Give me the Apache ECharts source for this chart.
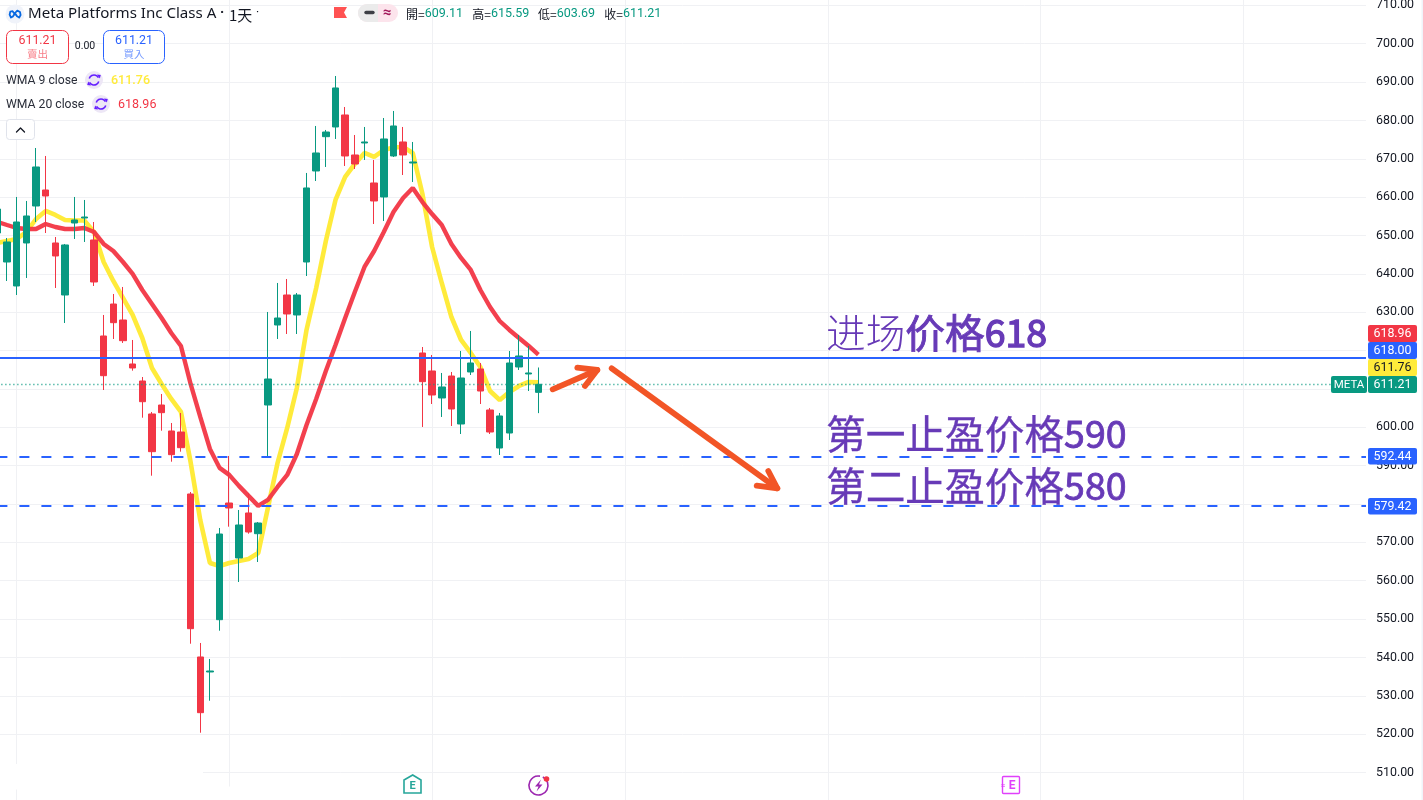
<!DOCTYPE html>
<html><head><meta charset="utf-8">
<style>html,body{margin:0;padding:0;background:#fff}#c{width:1423px;height:800px}</style>
<script src="https://cdn.jsdelivr.net/npm/echarts@6/dist/echarts.min.js"></script>
</head><body><div id="c"></div>
<script>
// Daily candles; index 0 is the sliver cut by the left edge of the chart.
const opens = [650.65,643.09,636.84,648.05,657.69,661.86,648.05,634.49,653.26,654.56,648.83,623.8,632.14,627.97,616.5,612.07,603.47,605.81,599.04,598.77,582.61,540.12,536.21,549.84,580.26,565.93,577.66,572.26,605.81,626.67,634.49,629.28,643.09,666.82,675.76,678.29,681.42,670.99,674.12,663.69,660.04,670.73,674.38,668.9,619.37,614.68,607.64,613.37,600.86,614.42,615.2,604.51,594.6,598.51,615.72,613.9,609.11];
const closes = [656.9,648.31,653.52,655.09,667.86,660.3,644.66,647.53,654.04,654.82,637.88,613.45,627.27,622.58,615.46,606.67,593.64,603.81,592.86,594.68,547.5,525.6,536.47,572.18,578.96,574.53,572.7,575.05,612.59,628.49,629.54,634.49,662.39,671.51,676.98,688.46,670.73,668.64,674.38,659.0,675.16,678.55,670.99,669.16,611.89,608.42,610.51,604.77,612.85,616.76,609.46,598.77,602.95,616.76,618.59,614.16,611.21];
const lows = [645.0,638.14,634.49,638.92,653.52,650.65,636.32,627.19,649.09,648.31,636.84,609.72,623.02,621.98,614.76,602.5,587.38,599.11,591.03,593.64,543.58,520.38,528.72,546.97,574.09,559.67,572.26,564.88,592.0,623.02,624.32,624.32,639.44,664.21,667.86,675.16,668.12,667.34,669.69,653.0,653.78,670.47,665.77,663.95,600.08,606.07,602.69,600.34,598.25,613.63,606.07,598.25,592.78,596.69,614.94,609.46,603.69];
const highs = [660.0,649.35,660.04,659.0,672.81,670.73,649.61,647.79,660.04,659.26,653.52,629.28,634.75,636.58,622.76,613.11,603.99,608.68,601.12,603.73,583.13,543.77,539.6,573.75,592.52,578.44,582.87,575.31,630.06,637.62,638.66,635.01,666.3,678.55,677.51,691.58,683.5,676.2,678.29,669.69,680.63,682.46,678.29,674.38,620.93,618.85,614.16,614.42,619.89,625.11,616.76,605.03,603.73,619.89,624.06,621.2,615.59];
const wma9 = [648.05,648.57,649.09,650.91,654.3,656.39,655.35,654.04,653.91,653.91,650.91,643.09,638.14,633.71,629.28,623.28,615.46,611.29,607.38,603.99,590.95,575.83,564.62,563.84,564.62,565.14,565.66,567.23,578.96,590.69,599.82,610.25,625.37,636.32,648.57,659.26,665.26,668.64,671.51,670.47,672.29,672.94,673.07,671.51,660.82,647.0,637.62,628.75,622.76,619.37,615.72,609.46,607.12,609.2,610.77,611.81,611.76];
const wma20 = [653.52,652.73,651.95,651.69,651.69,653.0,652.21,651.69,651.69,651.95,650.91,647.79,645.96,643.09,639.97,635.79,632.14,628.49,624.58,621.2,611.29,602.69,594.37,589.42,587.59,584.73,582.12,579.52,581.05,584.44,587.57,593.04,600.6,607.38,614.68,621.46,628.49,635.27,641.79,645.96,650.91,656.13,659.78,662.39,658.73,655.6,652.73,647.79,644.14,641.01,635.79,631.36,627.71,625.37,623.28,621.2,618.96];
const monthTicks = [2,24,45,65,86,108,129];
const priceAxisTicks = {min:500,max:720,step:10};
const entryPrice = 618.00, lastPrice = 611.21, wma9Last = 611.76, wma20Last = 618.96, target1 = 592.44, target2 = 579.42;
const title = 'Meta Platforms Inc Class A';
const ohlcLabels = [['開','609.11'],['高','615.59'],['低','603.69'],['收','611.21']];
const notes = [['进场','价格','618'],['','第一止盈价格','590'],['','第二止盈价格','580']];

const RED='#f23645',GREEN='#089981',BLUE='#2962ff',YEL='#ffeb3b',PUR='#673ab7',ORG='#f25526',GRID='#f0f1f4',INK='#131722';
const FF='Roboto,"Noto Sans CJK TC",sans-serif';
const CJK='"Noto Sans CJK SC",sans-serif';
const Z=100;
const txt=(text,x,y,o={})=>({type:'text',z:Z+2,silent:true,style:Object.assign({text,x,y,fontFamily:FF,fontSize:12,fill:INK,verticalAlign:'middle',align:'left'},o)});
const rect=(x,y,w,h,o={},r=0,z=Z)=>({type:'rect',z,silent:true,shape:{x,y,width:w,height:h,r},style:o});
const poly=(pts,o={},z=Z+1)=>({type:'polyline',z,silent:true,shape:{points:pts},style:Object.assign({fill:null,lineCap:'round',lineJoin:'round'},o)});
const pg=(pts,fill,z=Z+1)=>({type:'polygon',z,silent:true,shape:{points:pts},style:{fill}});
const circ=(cx,cy,r,o,z=Z+1)=>({type:'circle',z,silent:true,shape:{cx,cy,r},style:o});
const arc=(cx,cy,r,a,b,o,z=Z+1)=>({type:'arc',z,silent:true,shape:{cx,cy,r,startAngle:a,endAngle:b},style:Object.assign({fill:null},o)});

function tag(v,y0,y1,bg,fg){return [
  rect(1368,y0,49,y1-y0,{fill:bg},2),
  txt(v.toFixed(2),1392.5,(y0+y1)/2+0.5,{fill:fg,align:'center',fontSize:12.4})
];}
function syncIcon(cx,cy){return [
  circ(cx,cy,9,{fill:'#ede7f6'}),
  arc(cx,cy,5,Math.PI*1.1,Math.PI*1.85,{stroke:'#651fff',lineWidth:1.6}),
  arc(cx,cy,5,Math.PI*0.1,Math.PI*0.85,{stroke:'#651fff',lineWidth:1.6}),
  pg([[cx+3,cy-5.5],[cx+6.8,cy-5],[cx+5.8,cy-1.5]],'#651fff'),
  pg([[cx-3,cy+5.5],[cx-6.8,cy+5],[cx-5.8,cy+1.5]],'#651fff')
];}

const g=[];
// erased bits of the grid under the chart
g.push(rect(0,764,203,25.5,{fill:'#fff'},0,Z-1));
g.push(rect(227,786.5,5,14,{fill:'#fff'},0,Z-1));
g.push(rect(1421.5,0,1.5,800,{fill:'#f0f3fa'},0,Z-1));
// header
g.push(circ(15,14,9.5,{fill:'#f0f3fa'}));
g.push(poly([[15,14.5],[12.6,11.2],[10.3,11.6],[9.6,14.6],[11,17.5],[13,16.4],[15,13],[17.3,10.6],[20,12],[20.6,15],[19.2,17.6],[17,16.2],[15,13]],{stroke:'#0668e1',lineWidth:1.8,fill:null}));
g.push(txt(title,28,14,{fontSize:15.1,fontFamily:'"Noto Sans",sans-serif',fill:INK}));
g.push(txt('·',220,13,{fontSize:14,fontWeight:'bold'}));
g.push(txt('1天',229,15,{fontSize:15,fontFamily:'"Noto Sans CJK TC",sans-serif'}));
g.push(txt('·',256,13,{fontSize:12}));
g.push(pg([[334,7],[347,7],[344,12.5],[347,18],[334,18]],'#ff5252'));
g.push(rect(358,4,40,18,{fill:'#fce4ec'},9));
g.push({type:'rect',z:Z,silent:true,shape:{x:358,y:4,width:20,height:18,r:[9,0,0,9]},style:{fill:'#ebebeb'}});
g.push(poly([[366,12.5],[373,12.5]],{stroke:'#3d3f45',lineWidth:3.4}));
g.push(txt('≈',387,13,{align:'center',fontSize:15,fontWeight:'bold',fill:'#a3195b'}));
const ohlcX=[406,472.3,538,604.3];
ohlcLabels.forEach((p,i)=>{
  g.push({type:'text',z:Z+2,silent:true,style:{x:ohlcX[i],y:14,verticalAlign:'middle',text:`{l|${p[0]}=}{v|${p[1]}}`,rich:{
    l:{fontFamily:'"Noto Sans CJK TC",sans-serif',fontSize:12,fill:INK},
    v:{fontFamily:'Roboto',fontSize:12.5,fill:GREEN}}}});
});
// buy / sell
g.push(rect(6.5,30.5,62,33,{fill:'#fff',stroke:RED,lineWidth:1},6));
g.push(txt(lastPrice.toFixed(2),37.5,40.5,{align:'center',fill:RED,fontSize:12.4}));
g.push(txt('賣出',37.5,54,{align:'center',fill:RED,opacity:.65,fontSize:10.5,fontFamily:'"Noto Sans CJK TC",sans-serif'}));
g.push(txt('0.00',85,46.5,{align:'center',fontSize:10.5}));
g.push(rect(103.5,30.5,61,33,{fill:'#fff',stroke:BLUE,lineWidth:1},6));
g.push(txt(lastPrice.toFixed(2),134,40.5,{align:'center',fill:BLUE,fontSize:12.4}));
g.push(txt('買入',134,54,{align:'center',fill:BLUE,opacity:.65,fontSize:10.5,fontFamily:'"Noto Sans CJK TC",sans-serif'}));
// legend
g.push(txt('WMA 9 close',6,81,{fontSize:12.2,fill:'#2a2e39'}));
g.push(...syncIcon(94,80));
g.push(txt(wma9Last.toFixed(2),111,81,{fill:YEL,fontSize:12.5,fontWeight:500}));
g.push(txt('WMA 20 close',6,105,{fontSize:12.2,fill:'#2a2e39'}));
g.push(...syncIcon(101,104));
g.push(txt(wma20Last.toFixed(2),118,105,{fill:RED,fontSize:12.5}));
g.push(rect(6.5,119.5,28,20,{fill:'#fff',stroke:'#e0e3eb',lineWidth:1},3));
g.push(poly([[16.5,132],[20.5,128],[24.5,132]],{stroke:INK,lineWidth:1.3}));
// price tags
g.push(...tag(wma20Last,325,342,RED,'#fff'));
g.push(...tag(entryPrice,342,359,BLUE,'#fff'));
g.push(...tag(wma9Last,359,376,YEL,INK));
g.push(...tag(lastPrice,376,393,GREEN,'#fff'));
g.push(rect(1331,376,36,17,{fill:GREEN},2));
g.push(txt('META',1349,385,{fill:'#fff',align:'center',fontSize:11.5}));
g.push(...tag(target1,448,464.5,BLUE,'#fff'));
g.push(...tag(target2,498,514.6,BLUE,'#fff'));
// arrows
const arrowStyle={stroke:ORG,lineWidth:5.8};
g.push(poly([[552.7,389.3],[597.3,370]],arrowStyle));
g.push(poly([[577.3,367.7],[597.3,370],[585,386]],arrowStyle));
g.push(poly([[611.7,368.3],[777.3,488.3]],arrowStyle));
g.push(poly([[768.3,471],[777.3,488.3],[756.7,485.7]],arrowStyle));
// notes
const noteY=[333,434,486];
const noteBold=[0.9,0.35,0.35];
notes.forEach((n,i)=>{
  g.push({type:'text',z:Z+2,silent:true,style:{x:826,y:noteY[i],verticalAlign:'middle',
    text:(n[0]?`{t|${n[0]}}`:'')+`{c|${n[1]}}{d|${n[2]}}`,
    rich:{
      t:{fontFamily:CJK,fontSize:39.7,fontWeight:300,fill:PUR},
      c:{fontFamily:CJK,fontSize:39.7,fill:PUR,stroke:PUR,lineWidth:noteBold[i]},
      d:{fontFamily:CJK,fontSize:37.5,fill:PUR,stroke:PUR,lineWidth:noteBold[i]+0.5}}}});
});
// bottom event icons
g.push({type:'polygon',z:Z+1,silent:true,shape:{points:[[404,780],[412.7,775],[421,780],[421,793],[404,793]]},style:{fill:'#fff',stroke:'#26a69a',lineWidth:1.6}});
g.push(txt('E',412.7,786,{align:'center',fontSize:11,fontWeight:'bold',fill:'#26a69a'}));
g.push(arc(538.5,785.5,9.5,-Math.PI*0.35,Math.PI*1.55,{stroke:'#9c27b0',lineWidth:1.6}));
g.push(pg([[541,779.5],[535,786.5],[538.5,786.5],[536.5,791.5],[542.5,784.5],[539,784.5]],'#9c27b0'));
g.push(circ(546.5,779,2.8,{fill:RED}));
g.push(rect(1002.5,776.5,17,17,{fill:'#fff',stroke:'#e040fb',lineWidth:1.4},1));
g.push(txt('E',1012,785.5,{align:'center',fontSize:12,fontWeight:'bold',fill:'#e040fb'}));
g.push(txt('≈',1003,786,{align:'center',fontSize:8,fill:'#e040fb'}));

const idx=opens.map((_,i)=>i);
const level=(v,color,type,width)=>({yAxis:v,lineStyle:{color,type,width}});

const option={
  animation:false,
  backgroundColor:'#fff',
  grid:{left:-2.6,top:-33.02,width:1368.6,height:843.9,containLabel:false,outerBoundsMode:'none'},
  xAxis:{type:'value',min:0,max:141.677,
    axisLine:{show:false},axisLabel:{show:false},
    axisTick:{show:false,customValues:monthTicks},
    splitLine:{show:true,lineStyle:{color:GRID,width:1}}},
  yAxis:{type:'value',position:'right',min:priceAxisTicks.min,max:priceAxisTicks.max,interval:priceAxisTicks.step,
    axisLine:{show:false},axisTick:{show:false},
    axisLabel:{margin:10,fontFamily:'Roboto',fontSize:12.4,color:INK,formatter:v=>v.toFixed(2)},
    splitLine:{show:true,lineStyle:{color:GRID,width:1}}},
  graphic:{elements:g},
  series:[
    {name:'WMA 9',type:'line',z:1,data:idx.map(i=>[i,wma9[i]]),symbol:'none',lineStyle:{color:YEL,width:4.6},itemStyle:{color:YEL},silent:true},
    {name:'WMA 20',type:'line',z:2,data:idx.map(i=>[i,wma20[i]]),symbol:'none',lineStyle:{color:RED,width:4.4,opacity:.95},itemStyle:{color:RED},silent:true},
    {name:'META',type:'candlestick',z:3,barWidth:7,silent:true,
      data:idx.map(i=>[i,opens[i],closes[i],lows[i],highs[i]]),
      itemStyle:{color:GREEN,color0:RED,borderColor:GREEN,borderColor0:RED,borderWidth:1},
      markLine:{silent:true,symbol:'none',label:{show:false},animation:false,z:4,
        data:[
          level(entryPrice,BLUE,'solid',2),
          level(target1,BLUE,[10,12],2),
          level(target2,BLUE,[10,12],2),
          level(lastPrice,GREEN,[1,3],1.4)
        ]}}
  ]
};
echarts.init(document.getElementById('c'),null,{renderer:'canvas'}).setOption(option);
</script></body></html>
